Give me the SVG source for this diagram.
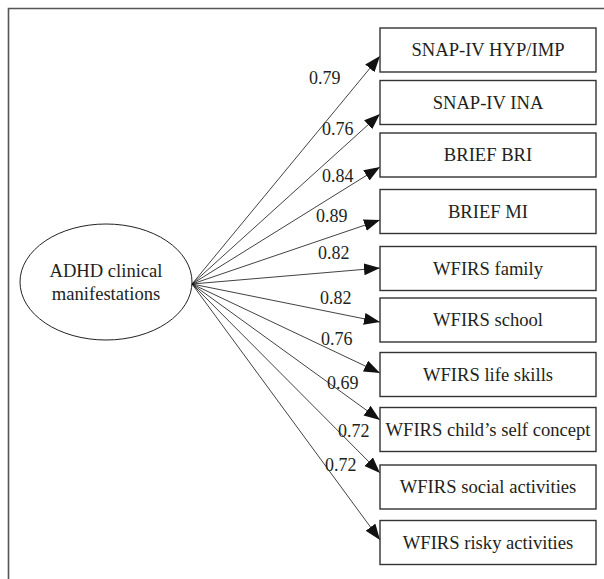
<svg xmlns="http://www.w3.org/2000/svg" width="604" height="579" viewBox="0 0 604 579">
<style>
.box{fill:#fff;stroke:#333;stroke-width:1.4}
text{font-family:'Liberation Serif','Times New Roman',serif;font-size:18px;fill:#231f20}
.lbl{text-anchor:middle;font-size:18.6px}
.edge{stroke:#111;stroke-width:0.8;fill:none;marker-end:url(#ah)}
</style>
<defs>
<marker id="ah" markerUnits="userSpaceOnUse" markerWidth="18" markerHeight="14" refX="16" refY="6" orient="auto">
<path d="M0,0 L16,6 L0,12 z" fill="#111"/>
</marker>
</defs>
<rect width="604" height="579" fill="#fff"/>
<path d="M8.5,590 V8.5 H610" fill="none" stroke="#555" stroke-width="1.6"/>
<g id="latent">
<ellipse cx="106" cy="282" rx="86" ry="58" fill="#fff" stroke="#222" stroke-width="1"/>
<text class="lbl" x="106" y="277">ADHD clinical</text>
<text class="lbl" x="106" y="300">manifestations</text>
</g>
<g id="connectors">
<line class="edge" x1="192" y1="284" x2="380" y2="56"/>
<line class="edge" x1="192" y1="284" x2="380" y2="114"/>
<line class="edge" x1="192" y1="284" x2="380" y2="167"/>
<line class="edge" x1="192" y1="284" x2="380" y2="220"/>
<line class="edge" x1="192" y1="284" x2="380" y2="268"/>
<line class="edge" x1="192" y1="284" x2="380" y2="322"/>
<line class="edge" x1="192" y1="284" x2="380" y2="373"/>
<line class="edge" x1="192" y1="284" x2="380" y2="420"/>
<line class="edge" x1="192" y1="284" x2="380" y2="473"/>
<line class="edge" x1="192" y1="284" x2="380" y2="540"/>
<text x="309" y="84">0.79</text>
<text x="322" y="135">0.76</text>
<text x="322" y="182">0.84</text>
<text x="316" y="222">0.89</text>
<text x="318" y="259">0.82</text>
<text x="320" y="304">0.82</text>
<text x="321" y="345">0.76</text>
<text x="327" y="389">0.69</text>
<text x="338" y="437">0.72</text>
<text x="325" y="471">0.72</text>
</g>
<g id="n1"><rect class="box" x="380" y="28" width="216" height="44"/><text class="lbl" x="488" y="56">SNAP-IV HYP/IMP</text></g>
<g id="n2"><rect class="box" x="380" y="80.5" width="216" height="44"/><text class="lbl" x="488" y="108.5">SNAP-IV INA</text></g>
<g id="n3"><rect class="box" x="380" y="133" width="216" height="44"/><text class="lbl" x="488" y="161">BRIEF BRI</text></g>
<g id="n4"><rect class="box" x="380" y="189.5" width="216" height="44"/><text class="lbl" x="488" y="217.5">BRIEF MI</text></g>
<g id="n5"><rect class="box" x="380" y="246.5" width="216" height="44"/><text class="lbl" x="488" y="274.5">WFIRS family</text></g>
<g id="n6"><rect class="box" x="380" y="298" width="216" height="44"/><text class="lbl" x="488" y="326">WFIRS school</text></g>
<g id="n7"><rect class="box" x="380" y="352.5" width="216" height="44"/><text class="lbl" x="488" y="380.5">WFIRS life skills</text></g>
<g id="n8"><rect class="box" x="380" y="407.5" width="216" height="44"/><text class="lbl" x="488" y="435.5">WFIRS child’s self concept</text></g>
<g id="n9"><rect class="box" x="380" y="465" width="216" height="44"/><text class="lbl" x="488" y="493">WFIRS social activities</text></g>
<g id="n10"><rect class="box" x="380" y="520.5" width="216" height="44"/><text class="lbl" x="488" y="548.5">WFIRS risky activities</text></g>
</svg>
